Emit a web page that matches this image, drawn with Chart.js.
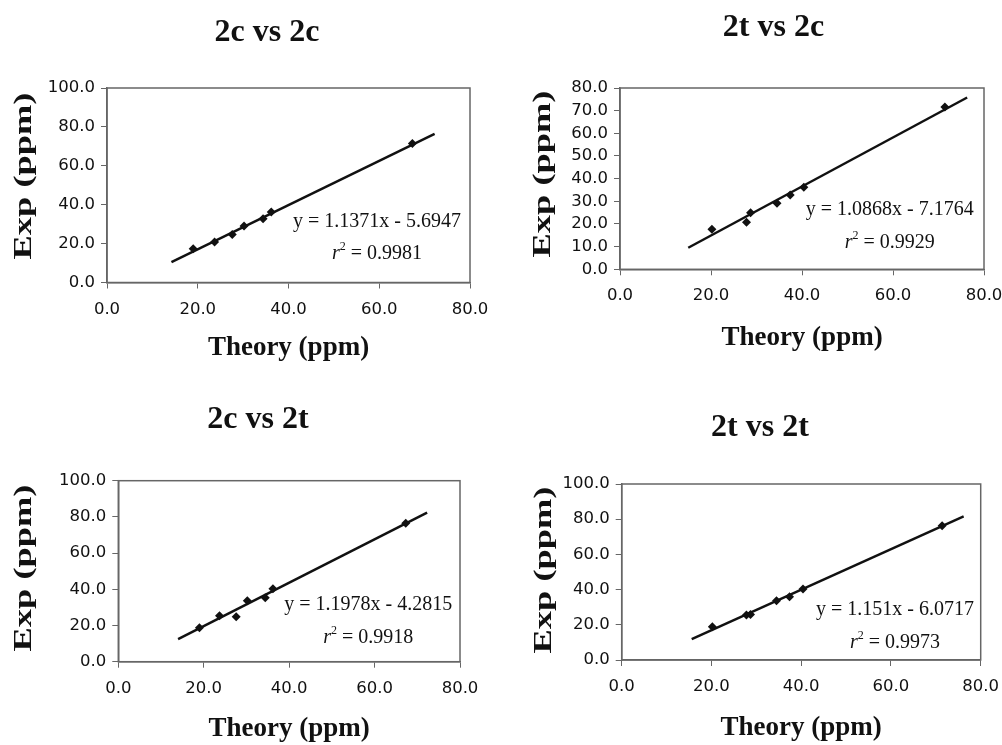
<!DOCTYPE html>
<html>
<head>
<meta charset="utf-8">
<title>Theory vs Exp (ppm)</title>
<script src="https://cdn.jsdelivr.net/npm/chart.js@4.4.0/dist/chart.umd.min.js"></script>
<style>
  body { margin: 0; background: #fff; }
  #wrap { position: relative; width: 1002px; height: 745px; overflow: hidden; }
  canvas { position: absolute; }
</style>
</head>
<body>
<div id="wrap">
  <canvas id="c1" width="520" height="372" style="left:0;top:0"></canvas>
  <canvas id="c2" width="482" height="372" style="left:520px;top:0"></canvas>
  <canvas id="c3" width="520" height="373" style="left:0;top:372px"></canvas>
  <canvas id="c4" width="482" height="373" style="left:520px;top:372px"></canvas>
</div>
<script>
// theory shifts (ppm), same for both panels of a conformer
const theory2c = [19.0, 23.7, 27.6, 30.2, 34.4, 36.2, 67.3];
const theory2t = [20.2, 27.8, 28.7, 34.5, 37.4, 40.4, 71.4];

// experimental shifts (ppm)
const exp2c2c = [17.4, 20.8, 24.7, 29.0, 32.8, 36.2, 71.5];
const exp2t2c = [17.7, 20.8, 25.0, 29.2, 32.8, 36.2, 71.6];
const exp2c2t = [18.8, 25.4, 24.8, 33.7, 35.4, 40.3, 76.5];
const exp2t2t = [18.9, 25.6, 25.9, 33.7, 36.0, 40.3, 76.3];

// trendline ends as drawn
const fit2c2cX = [14.2, 72.2], fit2c2cY = [10.5, 76.4];
const fit2t2cX = [15.0, 76.3], fit2t2cY = [9.5, 75.8];
const fit2c2tX = [14.0, 72.3], fit2c2tY = [12.5, 82.3];
const fit2t2tX = [15.6, 76.2], fit2t2tY = [11.9, 81.6];

const titles = ['2c vs 2c', '2t vs 2c', '2c vs 2t', '2t vs 2t'];
const equations = ['y = 1.1371x - 5.6947', 'y = 1.0868x - 7.1764', 'y = 1.1978x - 4.2815', 'y = 1.151x - 6.0717'];
const rSquared = ['0.9981', '0.9929', '0.9918', '0.9973'];

// axis ranges / tick steps
const xMax = 80, xStep = 20;
const yMax = [100, 80, 100, 100];
const yStep = [20, 10, 20, 20];

const serif = '"Liberation Serif", "Times New Roman", serif';
Chart.defaults.font.family = '"DejaVu Sans", Verdana, sans-serif';
Chart.defaults.font.size = 16.5;
Chart.defaults.color = '#111';

function drawR2(ctx, val, cx, cy) {
  const rest = ' = ' + val;
  ctx.font = 'italic 20px ' + serif;
  const w1 = ctx.measureText('r').width;
  ctx.font = '12px ' + serif;
  const w2 = ctx.measureText('2').width;
  ctx.font = '20px ' + serif;
  const w3 = ctx.measureText(rest).width;
  let x = cx - (w1 + w2 + w3) / 2;
  ctx.textAlign = 'left';
  ctx.font = 'italic 20px ' + serif;
  ctx.fillText('r', x, cy);
  x += w1;
  ctx.font = '12px ' + serif;
  ctx.fillText('2', x, cy - 7);
  x += w2;
  ctx.font = '20px ' + serif;
  ctx.fillText(rest, x, cy);
}

const panelText = {
  id: 'panelText',
  afterDraw(chart, args, o) {
    const {ctx, chartArea: a, scales} = chart;
    ctx.save();
    ctx.strokeStyle = '#666';
    ctx.lineWidth = 1.5;
    ctx.strokeRect(a.left, a.top, a.width, a.height);

    ctx.fillStyle = '#111';
    ctx.textAlign = 'center';
    ctx.textBaseline = 'middle';
    ctx.font = 'bold 32px ' + serif;
    ctx.fillText(o.title, o.titleX, o.titleY);

    // y axis title, stretched along its length like the original
    ctx.save();
    ctx.translate(o.yLabelX, o.yLabelY);
    ctx.rotate(-Math.PI / 2);
    ctx.scale(1.4, 1);
    ctx.font = 'bold 26px ' + serif;
    ctx.fillText('Exp (ppm)', 0, 0);
    ctx.restore();

    const ex = scales.x.getPixelForValue(o.eqAt[0]);
    ctx.font = '20px ' + serif;
    ctx.fillText(o.eq, ex, scales.y.getPixelForValue(o.eqAt[1]));
    drawR2(ctx, o.r2, ex, scales.y.getPixelForValue(o.eqAt[2]));
    ctx.restore();
  }
};

function makePanel(id, i, theory, exp, fitX, fitY, box) {
  const canvas = document.getElementById(id);
  const W = canvas.width, H = canvas.height;
  new Chart(canvas, {
    type: 'scatter',
    data: {
      datasets: [{
        data: theory.map((t, k) => ({x: t, y: exp[k]})),
        pointStyle: 'rectRot',
        pointRadius: 4.5,
        backgroundColor: '#111',
        borderWidth: 0
      }, {
        data: fitX.map((t, k) => ({x: t, y: fitY[k]})),
        showLine: true,
        pointRadius: 0,
        borderColor: '#111',
        borderWidth: 2.5
      }]
    },
    options: {
      responsive: false,
      animation: false,
      layout: { padding: { top: box.top, right: W - box.right, bottom: 0, left: 0 } },
      plugins: {
        legend: { display: false },
        tooltip: { enabled: false },
        panelText: {
          title: titles[i], titleX: box.titleX, titleY: box.titleY,
          yLabelX: box.yLabelX, yLabelY: box.yLabelY,
          eq: equations[i], r2: rSquared[i], eqAt: box.eqAt
        }
      },
      scales: {
        x: {
          min: 0, max: xMax,
          ticks: { stepSize: xStep, autoSkip: false, maxRotation: 0, padding: 11,
                   callback: v => v.toFixed(1) },
          grid: { drawOnChartArea: false, tickLength: 6, color: '#666' },
          border: { color: '#666', width: 1.5 },
          title: { display: true, text: 'Theory (ppm)', color: '#111',
                   font: { family: serif, size: 27, weight: 'bold' },
                   padding: { top: 0, bottom: box.xTitlePad } },
          afterFit: s => { s.height = H - box.bottom; s.paddingLeft = 0; s.paddingRight = 0; }
        },
        y: {
          min: 0, max: yMax[i],
          ticks: { stepSize: yStep[i], autoSkip: false, padding: 6,
                   callback: v => v.toFixed(1) },
          grid: { drawOnChartArea: false, tickLength: 6, color: '#666' },
          border: { color: '#666', width: 1.5 },
          afterFit: s => { s.width = box.left; }
        }
      }
    },
    plugins: [panelText]
  });
}

makePanel('c1', 0, theory2c, exp2c2c, fit2c2cX, fit2c2cY,
  {left: 107, right: 470, top: 88, bottom: 282.5, titleX: 267, titleY: 33,
   yLabelX: 24, yLabelY: 176, xTitlePad: 8, eqAt: [59.5, 31.3, 14.7]});
makePanel('c2', 1, theory2t, exp2t2c, fit2t2cX, fit2t2cY,
  {left: 100, right: 464, top: 88, bottom: 269.3, titleX: 253.5, titleY: 28,
   yLabelX: 23, yLabelY: 174, xTitlePad: 18, eqAt: [59.3, 26.2, 11.5]});
makePanel('c3', 2, theory2c, exp2c2t, fit2c2tX, fit2c2tY,
  {left: 118.3, right: 460, top: 108.7, bottom: 289.7, titleX: 258, titleY: 48,
   yLabelX: 24, yLabelY: 196, xTitlePad: 0, eqAt: [58.5, 31.3, 13.1]});
makePanel('c4', 3, theory2t, exp2t2t, fit2t2tX, fit2t2tY,
  {left: 101.7, right: 460.7, top: 112, bottom: 288, titleX: 240, titleY: 56,
   yLabelX: 24, yLabelY: 198, xTitlePad: 1, eqAt: [60.9, 28.4, 9.7]});
</script>
</body>
</html>
